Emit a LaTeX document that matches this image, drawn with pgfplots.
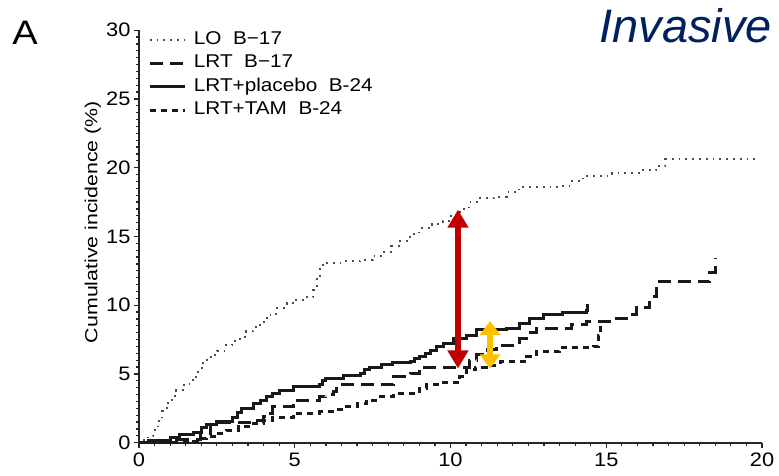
\documentclass[border=0pt]{standalone}
\usepackage{fontspec}
\setmainfont{Liberation Sans}[FakeStretch=1.12]
\newfontfamily\ylabfont{Liberation Sans}[FakeStretch=1.22]
\newfontfamily\plainfont{Liberation Sans}
\usepackage{pgfplots}
\pgfplotsset{compat=1.18}
\usetikzlibrary{arrows.meta}
\definecolor{invblue}{HTML}{002060}
\definecolor{arrred}{HTML}{C00000}
\definecolor{arryel}{HTML}{FFC000}
\begin{document}
\begin{tikzpicture}
\useasboundingbox (-139pt,-33.3pt) rectangle (640pt,442.7pt);
\begin{axis}[
  at={(0,0)}, anchor=south west,
  scale only axis, width=623pt, height=412.5pt,
  xmin=0, xmax=20, ymin=0, ymax=30,
  axis lines*=left,
  axis line style={line width=2pt, black!85},
  xtick={0,5,10,15,20}, ytick={0,5,...,30},
  minor x tick num=9, minor y tick num=9,
  tick align=outside,
  major tick length=5pt, minor tick length=3pt,
  every tick/.style={black!85, line width=1.2pt},
  /pgf/number format/assume math mode=true,
  tick label style={font=\fontsize{19.5}{19.5}\selectfont},
  xticklabel style={yshift=-2pt},
  ylabel={\ylabfont\fontsize{17.5}{17.5}\selectfont Cumulative incidence (\%)},
  ylabel style={at={(rel axis cs:-0.074,0.535)}, anchor=center, rotate=0},
  clip=false,
  legend image code/.code={\draw[#1] (0pt,0pt) -- (35pt,0pt);},
  legend cell align=left,
  legend style={at={(rel axis cs:0.0145,0.997)}, anchor=north west, draw=none, fill=none,
    inner sep=0pt, font=\fontsize{18.5}{18.5}\selectfont, row sep=6.3pt,
    nodes={inner sep=0pt, text height=13pt, text depth=4pt},
    /tikz/every odd column/.append style={column sep=7.7pt}},
]
% LO B-17
\addplot[const plot, black!70, line width=2pt, dash pattern=on 1.8pt off 5pt] coordinates {
(0,0) (0.15,0.2) (0.3,0.5) (0.45,0.9) (0.6,1.6) (0.75,2.3) (0.89,2.9) (1.05,3.4) (1.2,3.8) (1.45,4.3) (1.74,4.8) (1.9,5.4) (2.06,6.0) (2.3,6.4) (2.5,6.7) (2.8,7.1) (3.0,7.4) (3.24,7.7) (3.45,8.1) (3.67,8.4) (3.9,8.8) (4.1,9.3) (4.4,9.8) (4.74,10.15) (5.0,10.4) (5.38,10.6) (5.6,11.1) (5.7,12.0) (5.8,12.9) (6.0,13.1) (6.6,13.2) (7.1,13.3) (7.5,13.6) (7.83,13.9) (8.1,14.3) (8.38,14.7) (8.7,15.2) (9.0,15.6) (9.4,15.9) (9.76,16.1) (10.0,16.5) (10.3,17.0) (10.6,17.5) (10.85,17.8) (11.4,17.9) (11.8,18.2) (12.2,18.6) (13.6,18.7) (13.9,19.0) (14.25,19.4) (15.2,19.6) (16.1,19.8) (16.6,20.1) (16.9,20.6) (19.8,20.6)
};
\addlegendentry{LO~~B\textminus17}
% LRT B-17
\addplot[const plot, black!90, line width=3pt, dash pattern=on 13pt off 7pt] coordinates {
(0,0) (1.2,0.2) (1.96,0.7) (2.28,1.3) (2.6,1.5) (3.67,1.65) (4.0,1.9) (4.1,2.15) (4.3,2.6) (4.95,3.1) (5.8,3.35) (6.0,3.5) (6.23,3.7) (6.35,4.2) (7.95,4.2) (8.16,4.8) (8.7,5.05) (9.0,5.5) (10.3,5.5) (10.6,6.0) (10.84,6.4) (11.2,6.8) (11.48,7.1) (12.23,7.6) (12.5,8.0) (12.77,8.3) (13.5,8.3) (13.9,8.6) (14.37,8.8) (15.2,9.05) (15.65,9.3) (15.98,9.8) (16.4,10.6) (16.6,11.2) (16.7,11.7) (18.1,11.7) (18.33,12.4) (18.5,13.4)
};
\addlegendentry{LRT~~B\textminus17}
% LRT+placebo B-24
\addplot[const plot, black!90, line width=3pt] coordinates {
(0,0) (0.3,0.15) (1.0,0.4) (1.3,0.6) (1.74,0.75) (2.0,1.1) (2.17,1.3) (2.5,1.55) (3.0,1.8) (3.15,2.2) (3.3,2.5) (3.67,2.87) (3.9,3.1) (4.1,3.35) (4.3,3.6) (4.5,3.83) (4.95,4.12) (5.8,4.2) (5.9,4.5) (6.0,4.7) (6.55,4.92) (7.1,5.0) (7.25,5.3) (7.4,5.5) (7.8,5.7) (8.15,5.8) (8.7,5.9) (8.85,6.1) (9.0,6.25) (9.2,6.5) (9.35,6.74) (9.55,7.0) (9.77,7.25) (10.1,7.6) (10.5,7.8) (10.84,8.2) (11.8,8.33) (12.2,8.7) (12.55,9.05) (12.97,9.3) (13.6,9.5) (14.37,9.65) (14.4,10.1)
};
\addlegendentry{LRT+placebo~~B-24}
% LRT+TAM B-24
\addplot[const plot, black!90, line width=3pt, dash pattern=on 6pt off 5pt] coordinates {
(0,0) (1.74,0.1) (2.0,0.3) (2.17,0.45) (2.5,0.7) (2.8,0.9) (3.2,1.15) (3.67,1.4) (4.0,1.6) (4.3,1.8) (4.95,2.15) (5.8,2.25) (6.2,2.4) (6.55,2.6) (7.0,2.85) (7.3,3.1) (7.7,3.35) (8.16,3.6) (9.0,3.95) (9.24,4.2) (9.77,4.35) (10.3,4.8) (10.5,5.3) (10.8,5.5) (11.16,5.65) (11.6,5.9) (12.45,6.25) (12.77,6.6) (13.5,6.9) (14.58,7.0) (14.74,7.8) (14.8,8.6)
};
\addlegendentry{LRT+TAM~~B-24}
% annotation arrows
\draw[arrred, line width=6.5pt, {Triangle[width=20pt,length=18pt]}-{Triangle[width=20pt,length=18pt]}] (axis cs:10.24,16.95) -- (axis cs:10.24,5.4);
\draw[arryel, line width=6.5pt, {Triangle[width=20pt,length=14pt]}-{Triangle[width=20pt,length=14pt]}] (axis cs:11.27,8.85) -- (axis cs:11.27,5.4);
\end{axis}
\node[anchor=base east, inner sep=0pt, text=invblue, font=\plainfont\itshape\fontsize{47}{47}\selectfont] at (633pt,399.7pt) {Invasive};
\node[anchor=base west, inner sep=0pt, font=\fontsize{34}{34}\selectfont] at (-126.8pt,397.7pt) {A};
\end{tikzpicture}
\end{document}
